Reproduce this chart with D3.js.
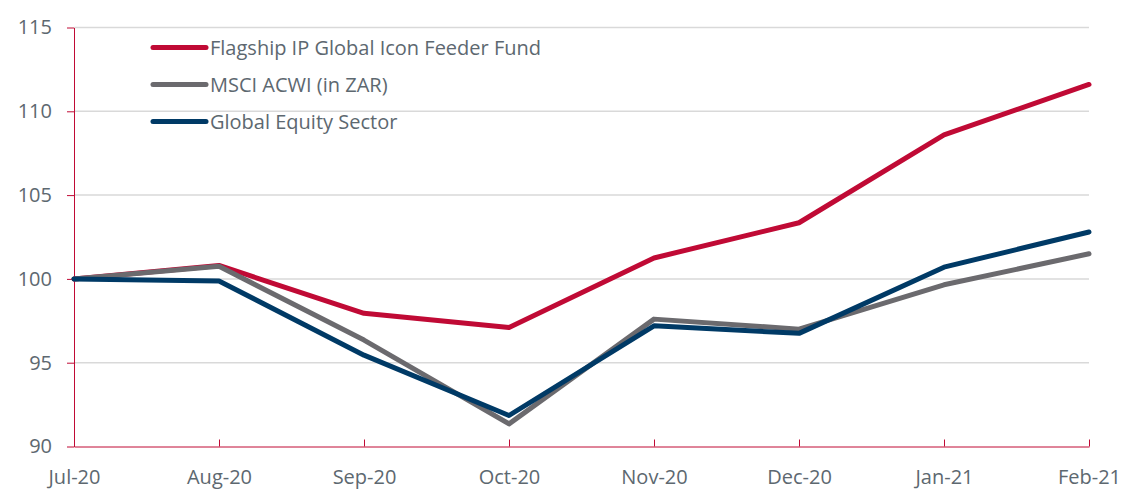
<html>
<head>
    <script src="https://d3js.org/d3.v7.min.js"></script>
    <style>
        body { margin: 0; background: #fff; }
        text { font-family: "Open Sans", sans-serif; fill: #5d6870; }
    </style>
</head>
<body>
    <svg id="chart" width="1121" height="489"></svg>
    <script>
        // data
        const months = ["Jul-20", "Aug-20", "Sep-20", "Oct-20", "Nov-20", "Dec-20", "Jan-21", "Feb-21"];
        const fund = [100, 100.8, 97.95, 97.1, 101.25, 103.35, 108.6, 111.6];
        const msci = [100, 100.75, 96.35, 91.35, 97.6, 97.0, 99.65, 101.5];
        const sector = [100, 99.88, 95.45, 91.85, 97.2, 96.75, 100.7, 102.8];
        const yTicks = [90, 95, 100, 105, 110, 115];

        const series = [
            {name: "Flagship IP Global Icon Feeder Fund", values: fund, color: "#c00a35"},
            {name: "MSCI ACWI (in ZAR)", values: msci, color: "#6b6a6e"},
            {name: "Global Equity Sector", values: sector, color: "#003a66"}
        ];

        const svg = d3.select("#chart");
        const margin = {top: 27.5, right: 32, bottom: 42.5, left: 74};
        const width = 1121 - margin.left - margin.right;
        const height = 489 - margin.top - margin.bottom;

        const x = d3.scalePoint().domain(months).range([0, width]);
        const y = d3.scaleLinear().domain([90, 115]).range([height, 0]);

        const g = svg.append("g")
            .attr("transform", "translate(" + margin.left + "," + margin.top + ")");

        // gridlines
        g.selectAll(".grid")
            .data(yTicks.filter(d => d > 90))
            .join("line")
            .attr("x1", 0).attr("x2", width)
            .attr("y1", d => y(d)).attr("y2", d => y(d))
            .style("stroke", "#d9d9d9")
            .style("stroke-width", 1.5);

        // y axis
        const yAxis = g.append("g")
            .call(d3.axisLeft(y).tickValues(yTicks).tickSize(7).tickPadding(15).tickSizeOuter(0));
        yAxis.select(".domain").style("stroke", "#c00a35");
        yAxis.selectAll("line").style("stroke", "#c00a35");
        yAxis.selectAll("text").style("font-size", "20px").style("fill", "#5d6870");

        // x axis, ticks pointing up
        const xAxis = g.append("g")
            .attr("transform", "translate(0," + height + ")")
            .call(d3.axisBottom(x).tickSize(-7).tickPadding(23).tickSizeOuter(0));
        xAxis.select(".domain").style("stroke", "#c00a35");
        xAxis.selectAll("line").style("stroke", "#c00a35");
        xAxis.selectAll("text").style("font-size", "20px").style("fill", "#5d6870");

        const line = d3.line()
            .x((d, i) => x(months[i]))
            .y(d => y(d));

        g.selectAll(".series")
            .data(series)
            .join("path")
            .attr("d", d => line(d.values))
            .style("fill", "none")
            .style("stroke", d => d.color)
            .style("stroke-width", 5)
            .style("stroke-linejoin", "round")
            .style("stroke-linecap", "round");

        // legend
        const legend = svg.append("g");
        series.forEach((s, i) => {
            const ly = 47.5 + i * 37;
            legend.append("line")
                .attr("x1", 153).attr("x2", 206)
                .attr("y1", ly).attr("y2", ly)
                .style("stroke", s.color)
                .style("stroke-width", 5)
                .style("stroke-linecap", "round");
            legend.append("text")
                .attr("x", 210).attr("y", ly)
                .attr("dy", "0.35em")
                .style("font-size", "20px")
                .text(s.name);
        });
    </script>
</body>
</html>
